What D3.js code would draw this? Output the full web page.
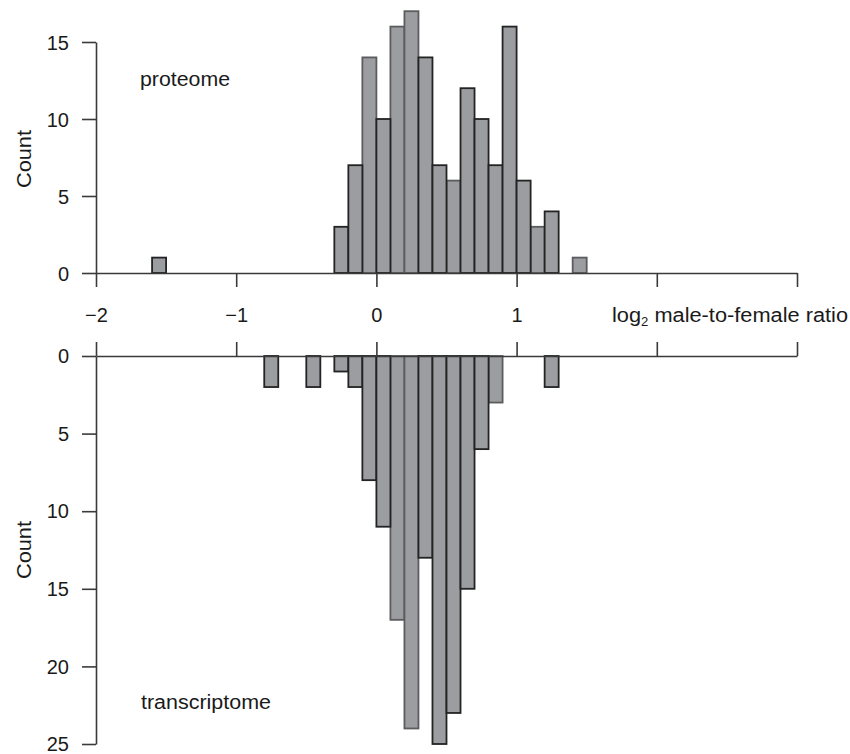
<!DOCTYPE html>
<html>
<head>
<meta charset="utf-8">
<script src="https://cdn.jsdelivr.net/npm/d3@7"></script>
<style>
  html, body { margin: 0; padding: 0; background: #fff; }
  svg text { font-family: "Liberation Sans", Arial, Helvetica, sans-serif; fill: #1a1a1a; }
</style>
</head>
<body>
<svg id="chart" width="850" height="754"></svg>
<script>
// ---- data ----
const binWidth = 0.1;
const proteomeBins   = [-1.6, -0.3, -0.2, -0.1, 0.0, 0.1, 0.2, 0.3, 0.4, 0.5, 0.6, 0.7, 0.8, 0.9, 1.0, 1.1, 1.2, 1.4];
const proteomeCounts = [1, 3, 7, 14, 10, 16, 17, 14, 7, 6, 12, 10, 7, 16, 6, 3, 4, 1];
const transcriptomeBins   = [-0.8, -0.5, -0.3, -0.2, -0.1, 0.0, 0.1, 0.2, 0.3, 0.4, 0.5, 0.6, 0.7, 0.8, 1.2];
const transcriptomeCounts = [2, 2, 1, 2, 8, 11, 17, 24, 13, 25, 23, 15, 6, 3, 2];
const xTicks = [-2, -1, 0, 1, 2, 3];
const xTickLabels = ["\u22122", "\u22121", "0", "1", "", ""];
const proteomeYTicks = [0, 5, 10, 15];
const transcriptomeYTicks = [0, 5, 10, 15, 20, 25];

// bins whose outlines were printed lighter in the original figure
const proteomeFaint = [-0.1, 0.1, 0.2, 0.5, 1.1, 1.4];
const transcriptomeFaint = [0.1, 0.2, 0.8];

// ---- layout ----
const svg = d3.select("#chart");
const FS = 20;
const fill = "#9b9da1";
const darkEdge = "#232323";
const lightEdge = "#5c5c5e";
const axisColor = "#3a3a3a";

const x = d3.scaleLinear().domain([-2, 3]).range([96, 797]);
const yTop = d3.scaleLinear().domain([0, 15]).range([273, 42]);
const yBot = d3.scaleLinear().domain([0, 25]).range([356, 744]);

function styleAxis(g) {
  g.selectAll("path.domain").attr("stroke", axisColor).attr("stroke-width", 1.6);
  g.selectAll(".tick line").attr("stroke", axisColor).attr("stroke-width", 1.6);
  g.selectAll(".tick text").attr("font-size", FS).attr("fill", "#1a1a1a")
    .attr("font-family", '"Liberation Sans", Arial, sans-serif');
}

function drawBars(bins, counts, faint, y) {
  const data = bins.map((b, i) => ({ x0: b, n: counts[i], faint: faint.some(f => Math.abs(f - b) < 1e-9) }));
  data.sort((a, b) => (b.faint ? 1 : 0) - (a.faint ? 1 : 0)); // faint first, dark on top
  const g = svg.append("g");
  g.selectAll("rect").data(data).join("rect")
    .attr("x", d => x(d.x0))
    .attr("width", d => x(d.x0 + binWidth) - x(d.x0))
    .attr("y", d => Math.min(y(0), y(d.n)))
    .attr("height", d => Math.abs(y(d.n) - y(0)))
    .attr("fill", fill)
    .attr("stroke", d => d.faint ? lightEdge : darkEdge)
    .attr("stroke-width", 1.8);
}

// ---- top panel: proteome ----
drawBars(proteomeBins, proteomeCounts, proteomeFaint, yTop);

const gxTop = svg.append("g").attr("transform", `translate(0,${yTop(0)})`)
  .call(d3.axisBottom(x).tickValues(xTicks).tickSize(14).tickSizeOuter(0)
        .tickPadding(21).tickFormat((d, i) => xTickLabels[i]));
styleAxis(gxTop);

const gyTop = svg.append("g").attr("transform", `translate(${x(-2)},0)`)
  .call(d3.axisLeft(yTop).tickValues(proteomeYTicks).tickSize(14).tickSizeOuter(0).tickPadding(13));
styleAxis(gyTop);
gyTop.selectAll(".tick text").attr("dy", "0.36em");

// ---- bottom panel: transcriptome ----
drawBars(transcriptomeBins, transcriptomeCounts, transcriptomeFaint, yBot);

const gxBot = svg.append("g").attr("transform", `translate(0,${yBot(0)})`)
  .call(d3.axisTop(x).tickValues(xTicks).tickSize(14).tickSizeOuter(0).tickFormat(""));
styleAxis(gxBot);

const gyBot = svg.append("g").attr("transform", `translate(${x(-2)},0)`)
  .call(d3.axisLeft(yBot).tickValues(transcriptomeYTicks).tickSize(14).tickSizeOuter(0).tickPadding(13));
styleAxis(gyBot);
gyBot.selectAll(".tick text").attr("dy", "0.33em");

// ---- labels ----
const xl = svg.append("text")
  .attr("x", 612).attr("y", 322)
  .attr("font-size", FS)
  .attr("textLength", 236).attr("lengthAdjust", "spacingAndGlyphs");
xl.append("tspan").text("log");
xl.append("tspan").attr("font-size", 12).attr("dy", 4).text("2");
xl.append("tspan").attr("dy", -4).text(" male-to-female ratio");

svg.append("text")
  .attr("transform", `translate(31,159) rotate(-90)`)
  .attr("text-anchor", "middle").attr("font-size", FS)
  .attr("textLength", 58).attr("lengthAdjust", "spacingAndGlyphs")
  .text("Count");
svg.append("text")
  .attr("transform", `translate(31,550) rotate(-90)`)
  .attr("text-anchor", "middle").attr("font-size", FS)
  .attr("textLength", 58).attr("lengthAdjust", "spacingAndGlyphs")
  .text("Count");

svg.append("text")
  .attr("x", 140).attr("y", 86).attr("font-size", FS)
  .attr("textLength", 90).attr("lengthAdjust", "spacingAndGlyphs")
  .text("proteome");
svg.append("text")
  .attr("x", 141).attr("y", 709).attr("font-size", FS)
  .attr("textLength", 130).attr("lengthAdjust", "spacingAndGlyphs")
  .text("transcriptome");
</script>
</body>
</html>
